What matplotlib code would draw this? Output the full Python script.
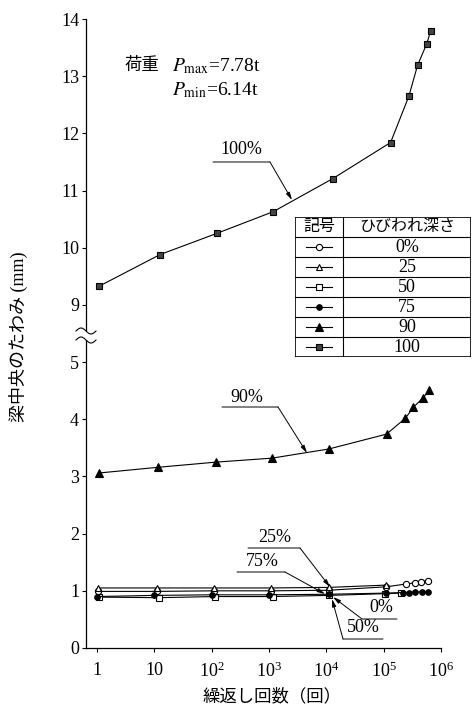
import numpy as np
import matplotlib.pyplot as plt
from matplotlib.patches import Rectangle
from matplotlib.lines import Line2D

plt.rcParams['font.family'] = ['Liberation Serif', 'Noto Sans CJK JP']
plt.rcParams['mathtext.fontset'] = 'stix'

# crack depth series: cycles (回) vs mid-span deflection (mm)
cyc_0 = [1.05, 11, 110, 1.1e3, 1.1e4, 1.1e5, 2.5e5, 3.45e5, 4.5e5, 5.9e5]
defl_0 = [0.99, 0.99, 1.00, 1.00, 1.01, 1.07, 1.12, 1.14, 1.16, 1.18]

cyc_25 = [1.05, 11, 110, 1.1e3, 1.1e4, 1.1e5]
defl_25 = [1.05, 1.05, 1.05, 1.05, 1.06, 1.10]

cyc_50 = [1.1, 12, 115, 1.15e3, 1.1e4, 1.05e5, 2.0e5]
defl_50 = [0.89, 0.88, 0.90, 0.90, 0.92, 0.95, 0.96]

cyc_75 = [1.0, 10, 100, 1.0e3, 1.1e4, 1.1e5, 2.2e5, 2.8e5, 3.5e5, 4.6e5, 5.9e5]
defl_75 = [0.90, 0.92, 0.93, 0.93, 0.94, 0.96, 0.97, 0.97, 0.98, 0.98, 0.98]

cyc_90 = [1.07, 11.5, 117, 1.12e3, 1.1e4, 1.12e5, 2.4e5, 3.3e5, 4.8e5, 6.3e5]
defl_90 = [3.06, 3.16, 3.25, 3.32, 3.48, 3.74, 4.02, 4.21, 4.37, 4.51]

cyc_100 = [1.1, 12.5, 122, 1.18e3, 1.3e4, 1.32e5, 2.75e5, 3.9e5, 5.6e5, 6.6e5]
defl_100 = [9.33, 9.88, 10.25, 10.63, 11.21, 11.84, 12.65, 13.19, 13.56, 13.79]

legend_labels = ['0%', '25', '50', '75', '90', '100']
x_ticks = [1, 10, 1e2, 1e3, 1e4, 1e5, 1e6]
x_ticklabels = ['1', '10'] + [r'$\mathregular{10^%d}$' % k for k in range(2, 7)]
y_ticks = [0, 1, 2, 3, 4, 5, 9, 10, 11, 12, 13, 14]

W, H = 472, 709


def P(x, y):
    # image pixel (top-left origin) -> figure fraction
    return (x / W, 1 - y / H)


# broken y axis: 5..9 squeezed into one unit
def fwd(y):
    y = np.asarray(y, dtype=float)
    return np.where(y <= 5, y, np.where(y >= 9, y - 3, 5 + (y - 5) / 4))


def inv(t):
    t = np.asarray(t, dtype=float)
    return np.where(t <= 5, t, np.where(t >= 6, t + 3, 5 + (t - 5) * 4))


fig = plt.figure(figsize=(W / 100, H / 100), dpi=100)
ax = fig.add_axes([86 / W, 61 / H, (441 - 86) / W, 629 / H])

line_kw = dict(color='black', lw=0.8, mec='black', mew=0.8)
styles = [
    (cyc_0, defl_0, dict(marker='o', ms=4.5, mfc='white')),
    (cyc_25, defl_25, dict(marker='^', ms=5, mfc='white')),
    (cyc_50, defl_50, dict(marker='s', ms=4.5, mfc='white')),
    (cyc_75, defl_75, dict(marker='o', ms=4, mfc='black')),
    (cyc_90, defl_90, dict(marker='^', ms=6, mfc='black')),
    (cyc_100, defl_100, dict(marker='s', ms=5, mfc='#444444')),
]
for xs, ys, mk in styles:
    ax.plot(xs, ys, **line_kw, **mk)

ax.set_xscale('log')
ax.set_xlim(0.64, 1e6)
ax.set_yscale('function', functions=(fwd, inv))
ax.set_ylim(0, 14)
ax.set_xticks(x_ticks)
ax.set_xticklabels(x_ticklabels)
ax.xaxis.set_minor_locator(plt.NullLocator())
ax.set_yticks(y_ticks)
ax.set_yticklabels([str(v) for v in y_ticks])
ax.yaxis.set_minor_locator(plt.NullLocator())
ax.tick_params(axis='both', direction='out', length=3, width=0.8, labelsize=13)
ax.tick_params(axis='x', pad=7)
ax.tick_params(axis='y', pad=2)
for s in ['top', 'right']:
    ax.spines[s].set_visible(False)
for s in ['left', 'bottom']:
    ax.spines[s].set_linewidth(0.9)

# axis break mark
fig.add_artist(Rectangle(P(83, 340), 7 / W, 9 / H, transform=fig.transFigure,
                         facecolor='white', edgecolor='none', zorder=5))
tt = np.linspace(0, 1, 40)
for yc in (331, 340):
    xs = 76 + 20 * tt
    ys = yc - 3 * np.sin(2 * np.pi * tt)
    fig.add_artist(Line2D(xs / W, 1 - ys / H, transform=fig.transFigure,
                          color='black', lw=0.8, zorder=6))

# axis labels
fig.text(*P(18, 337), '梁中央のたわみ (mm)', rotation=90, ha='center', va='center', fontsize=13)
fig.text(*P(272, 697), '繰返し回数（回）', ha='center', va='center', fontsize=12.5)

# load note
fig.text(*P(125, 66), '荷重', ha='left', va='center', fontsize=12.5)
fig.text(*P(172, 66), r'$P_{\mathrm{max}}$=7.78t', ha='left', va='center', fontsize=14)
fig.text(*P(172, 90), r'$P_{\mathrm{min}}$=6.14t', ha='left', va='center', fontsize=14)


def callout(text, tx, ty, ux0, ux1, uy, tip, from_left=False):
    fig.text(*P(tx, ty), text, ha='center', va='center', fontsize=13)
    ax.annotate('', xy=P(ux1, uy), xytext=P(ux0, uy), xycoords='figure fraction',
                arrowprops=dict(arrowstyle='-', lw=0.7, shrinkA=0, shrinkB=0))
    sx = ux0 if from_left else ux1
    ax.annotate('', xy=P(*tip), xytext=P(sx, uy), xycoords='figure fraction',
                arrowprops=dict(arrowstyle='-|>,head_length=0.45,head_width=0.12',
                                lw=0.7, color='black', shrinkA=0, shrinkB=0))


callout('100%', 241, 150, 213, 270, 162, (292, 200))
callout('90%', 247, 397, 222, 278, 407, (307, 453))
callout('25%', 275, 538, 248, 300, 548, (330, 587))
callout('75%', 262, 562, 237, 285, 572, (325, 594))
callout('0%', 381, 607, 362, 397, 619, (333, 597), from_left=True)
callout('50%', 363, 627, 343, 383, 639, (332, 599), from_left=True)

# legend table
lax = fig.add_axes([295 / W, 1 - 357 / H, 176 / W, 140 / H])
lax.set_xlim(0, 1)
lax.set_ylim(7, 0)
lax.axis('off')
lax.add_patch(Rectangle((0, 0), 1, 7, facecolor='white', edgecolor='black', lw=1.2))
split = (343 - 295) / 176
lax.plot([split, split], [0, 7], color='black', lw=0.8)
for r in range(1, 7):
    lax.plot([0, 1], [r, r], color='black', lw=0.8)
lax.text(split / 2, 0.52, '記号', ha='center', va='center', fontsize=11.5)
lax.text((split + 1) / 2, 0.52, 'ひびわれ深さ', ha='center', va='center', fontsize=11.5)
for i, ((_, _, mk), lab) in enumerate(zip(styles, legend_labels)):
    yc = i + 1.5
    lax.plot([0.06, split / 2, split - 0.06], [yc, yc, yc], color='black', lw=0.8,
             marker=mk['marker'], ms=mk['ms'], mfc=mk['mfc'], mec='black', mew=0.8,
             markevery=[1])
    lax.text((split + 1) / 2, yc, lab, ha='center', va='center', fontsize=13)

fig.savefig('out.png', dpi=100)
